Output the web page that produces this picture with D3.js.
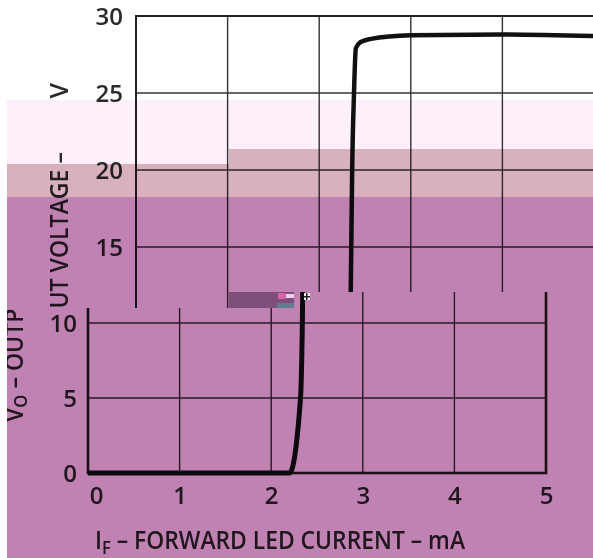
<!DOCTYPE html>
<html><head><meta charset="utf-8">
<script src="https://cdn.jsdelivr.net/npm/d3@7"></script>
<style>html,body{margin:0;padding:0;background:#fff;overflow:hidden}svg{display:block}</style>
</head><body>
<svg id="c" width="593" height="558"></svg>
<script>
// ---- data ----
const xTicks = [0, 1, 2, 3, 4, 5];
const yTicks = [0, 5, 10, 15, 20, 25, 30];
const gridX = [1, 2, 3, 4];
const gridY = [5, 10, 15, 20, 25];
const currentMA = [0, 2.2, 2.32, 2.34, 2.35, 2.36, 2.38, 2.40, 2.45, 2.55, 3, 4, 5];
const outputV   = [0, 0,   5,    10,   15,   20,   25,   27.9, 28.3, 28.5, 28.75, 28.8, 28.7];
const xTitleParts = ["I", "F", " – FORWARD LED CURRENT – mA"];
const yTitleParts = ["V", "O", " – OUTPUT VOLTAGE –"];
const yTitleUnit = "V";

const points = currentMA.map((c, i) => [c, outputV[i]]);
const svg = d3.select("#c");
const FONT = "'Open Sans', 'Noto Sans', sans-serif";
const TXT = "#2b2b2b";

const defs = svg.append("defs");
defs.append("clipPath").attr("id", "clipTop").append("path")
  .attr("d", "M0,0H593V292H229V308H0Z");
defs.append("clipPath").attr("id", "clipBot").append("path")
  .attr("d", "M0,308H229V292H593V558H0Z");

svg.append("rect").attr("width", 593).attr("height", 558).attr("fill", "#fff");

function drawChart(g, cfg) {
  const x = d3.scaleLinear().domain([0, 5]).range([cfg.x0, cfg.x0 + cfg.xw]);
  const y = d3.scaleLinear().domain([0, 30]).range([cfg.y0, cfg.y0 - cfg.yh]);

  g.append("g").selectAll("line").data(gridX).join("line")
    .attr("x1", d => x(d)).attr("x2", d => x(d))
    .attr("y1", y(30)).attr("y2", y(0))
    .attr("stroke", "#333").attr("stroke-width", 1.4);
  g.append("g").selectAll("line").data(gridY).join("line")
    .attr("x1", x(0)).attr("x2", x(5))
    .attr("y1", d => y(d)).attr("y2", d => y(d))
    .attr("stroke", "#333").attr("stroke-width", 1.4);
  g.append("rect").attr("x", x(0)).attr("y", y(30))
    .attr("width", x(5) - x(0)).attr("height", y(0) - y(30))
    .attr("fill", "none").attr("stroke", "#222").attr("stroke-width", cfg.frameW);

  const ya = d3.axisLeft(y).tickValues(yTicks.filter(cfg.yShow)).tickSize(0)
    .tickPadding(cfg.yPad).tickFormat(d3.format("d"));
  const yg = g.append("g").attr("transform", `translate(${x(0)},0)`).call(ya);
  yg.select(".domain").remove();
  yg.selectAll("text").attr("font-family", FONT).attr("font-size", 24)
    .attr("font-weight", 600).attr("fill", TXT).attr("dy", "0.36em");

  if (cfg.showX) {
    const xa = d3.axisBottom(x).tickValues(xTicks).tickSize(0).tickPadding(14).tickFormat(d3.format("d"));
    const xg = g.append("g").attr("transform", `translate(0,${y(0)})`).call(xa);
    xg.select(".domain").remove();
    xg.selectAll("text").attr("font-family", FONT).attr("font-size", 24)
      .attr("font-weight", 600).attr("fill", TXT)
      .attr("dx", d => d === 0 ? 8 : 0);

    const xt = g.append("text").attr("x", cfg.xTitleX).attr("y", cfg.xTitleY)
      .attr("font-family", FONT).attr("font-size", 25).attr("font-weight", 600).attr("fill", TXT)
      .attr("textLength", 370).attr("lengthAdjust", "spacingAndGlyphs");
    xt.append("tspan").text(xTitleParts[0]);
    xt.append("tspan").attr("font-size", 18).attr("dy", 5).text(xTitleParts[1]);
    xt.append("tspan").attr("dy", -5).text(xTitleParts[2]);
  }

  const yt = g.append("text")
    .attr("transform", `translate(${cfg.yTitleX},${cfg.yTitleY}) rotate(-90)`)
    .attr("font-family", FONT).attr("font-size", 25).attr("font-weight", 600).attr("fill", TXT)
    .attr("textLength", 270).attr("lengthAdjust", "spacingAndGlyphs");
  yt.append("tspan").text(yTitleParts[0]);
  yt.append("tspan").attr("font-size", 18).attr("dy", 4).text(yTitleParts[1]);
  yt.append("tspan").attr("dy", -4).text(yTitleParts[2]);

  if (cfg.showUnit) {
    g.append("text")
      .attr("transform", `translate(${cfg.yTitleX},${cfg.unitY}) rotate(-90)`)
      .attr("font-family", FONT).attr("font-size", 25).attr("font-weight", 600).attr("fill", TXT)
      .attr("text-anchor", "end").text(yTitleUnit);
  }

  g.append("path").datum(points)
    .attr("d", d3.line().x(d => x(d[0])).y(d => y(d[1])).curve(d3.curveMonotoneX))
    .attr("fill", "none").attr("stroke", "#111").attr("stroke-width", cfg.lineW)
    .attr("stroke-linejoin", "round");
}

const upperPiece = svg.append("g").attr("clip-path", "url(#clipTop)");
drawChart(upperPiece, {x0: 136, xw: 458, y0: 478, yh: 462, yPad: 13, frameW: 2,
  lineW: 4.5, showX: false, yShow: d => d >= 15, showUnit: true, unitY: 83,
  yTitleX: 68, yTitleY: 422});
const lowerPiece = svg.append("g").attr("clip-path", "url(#clipBot)");
drawChart(lowerPiece, {x0: 88, xw: 458, y0: 473, yh: 450, yPad: 11, frameW: 2.6,
  lineW: 5, showX: true, yShow: d => d <= 10, showUnit: false,
  xTitleX: 95, xTitleY: 549, yTitleX: 23, yTitleY: 422});

const tint = svg.append("g").style("mix-blend-mode", "multiply");
tint.append("rect").attr("x", 7).attr("y", 100).attr("width", 586).attr("height", 97).attr("fill", "#fdf0fb");
tint.append("rect").attr("x", 7).attr("y", 164).attr("width", 222).attr("height", 33).attr("fill", "#d9b1bd");
tint.append("rect").attr("x", 229).attr("y", 149).attr("width", 364).attr("height", 48).attr("fill", "#d9b1bd");
tint.append("rect").attr("x", 7).attr("y", 197).attr("width", 586).attr("height", 361).attr("fill", "#bf82b2");

const gl = svg.append("g");
gl.append("rect").attr("x", 229).attr("y", 292).attr("width", 65).attr("height", 16).attr("fill", "#7f4f7c");
gl.append("rect").attr("x", 277).attr("y", 303).attr("width", 17).attr("height", 5).attr("fill", "#5f7d8a");
gl.append("rect").attr("x", 278).attr("y", 293).attr("width", 8).attr("height", 6).attr("fill", "#e060a8");
gl.append("rect").attr("x", 286).attr("y", 294).attr("width", 8).attr("height", 4).attr("fill", "#f0d0e8");
gl.append("rect").attr("x", 304).attr("y", 293).attr("width", 6).attr("height", 7).attr("fill", "#f4f0f4");
gl.append("rect").attr("x", 306).attr("y", 293).attr("width", 1.5).attr("height", 7).attr("fill", "#222");
gl.append("rect").attr("x", 304).attr("y", 296).attr("width", 6).attr("height", 1.5).attr("fill", "#222");

svg.append("rect").attr("x", 0).attr("y", 0).attr("width", 7).attr("height", 558).attr("fill", "#fff");
</script>
</body></html>
